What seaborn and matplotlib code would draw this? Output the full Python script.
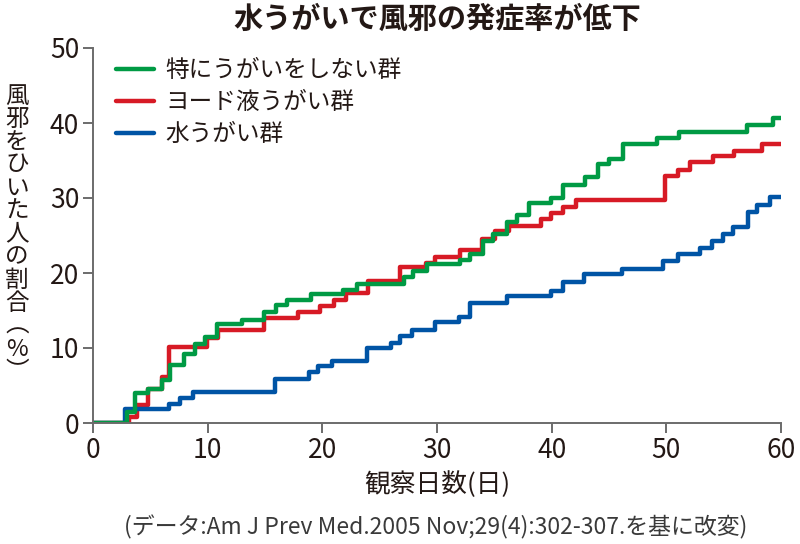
import matplotlib
matplotlib.use("Agg")
import matplotlib.pyplot as plt
import seaborn as sns
import pandas as pd

# ---- data ----
group_labels = ["特にうがいをしない群", "ヨード液うがい群", "水うがい群"]
group_colors = ["#009a44", "#d71a25", "#0054a5"]

days_none = [0, 2.95, 3.7, 4.8, 6.0, 6.7, 7.9, 8.9, 9.8, 10.8, 13.0, 14.9, 16.0, 16.9,
             19.0, 21.8, 23.0, 27.1, 27.9, 29.1, 32.0, 32.9, 34.0, 34.9, 36.1, 37.0,
             38.0, 39.9, 41.0, 42.9, 44.0, 45.0, 46.2, 49.2, 51.1, 57.0, 59.3, 60]
rate_none = [0, 1.5, 3.95, 4.6, 5.7, 7.8, 9.2, 10.5, 11.5, 13.2, 13.8, 14.8, 15.7, 16.4,
             17.2, 17.8, 18.6, 19.5, 20.3, 21.2, 21.7, 22.6, 24.3, 25.2, 26.8, 27.7,
             29.4, 30.0, 31.8, 32.8, 34.6, 35.2, 37.2, 38.0, 38.8, 39.7, 40.7, 40.7]

days_iodine = [0, 3.1, 3.8, 4.8, 6.0, 6.6, 9.9, 10.9, 14.9, 17.9, 19.8, 21.0, 22.1, 24.0,
               26.8, 29.0, 29.8, 32.0, 33.9, 35.1, 36.3, 39.1, 39.9, 41.0, 42.1, 49.9,
               51.0, 52.1, 54.1, 55.9, 58.3, 60]
rate_iodine = [0, 0.75, 2.4, 4.6, 6.2, 10.1, 11.4, 12.4, 14.0, 14.8, 15.6, 16.4, 17.4, 18.9,
               20.8, 21.4, 22.1, 23.1, 24.5, 25.6, 26.3, 27.2, 28.0, 28.8, 29.8, 33.0,
               33.7, 34.8, 35.6, 36.3, 37.2, 37.2]

days_water = [0, 2.8, 6.6, 7.6, 8.75, 15.9, 18.8, 19.6, 20.8, 23.9, 26.0, 26.8, 27.8, 29.8,
              31.9, 32.9, 36.1, 39.9, 41.0, 42.8, 46.1, 49.7, 51.0, 52.9, 54.0, 54.9,
              55.8, 57.1, 57.9, 59.0, 60]
rate_water = [0, 1.9, 2.6, 3.4, 4.2, 5.9, 6.8, 7.6, 8.3, 10.0, 10.7, 11.6, 12.4, 13.5,
              14.2, 16.0, 16.9, 17.6, 18.8, 19.9, 20.6, 21.6, 22.6, 23.3, 24.3, 25.2,
              26.2, 28.2, 29.1, 30.2, 30.2]

x_ticks = [0, 10, 20, 30, 40, 50, 60]
y_ticks = [0, 10, 20, 30, 40, 50]

title = "水うがいで風邪の発症率が低下"
x_label = "観察日数(日)"
y_label = "風邪をひいた人の割合︵%︶"
source = "(データ:Am J Prev Med.2005 Nov;29(4):302-307.を基に改変)"

# ---- style ----
sns.set_style("ticks")
plt.rcParams["font.family"] = ["Noto Sans CJK JP", "DejaVu Sans"]
TXT = "#231815"
AX = "#6b6b6b"

fig = plt.figure(figsize=(8, 5.44), dpi=100)
ax = fig.add_axes([93 / 800, 1 - 423 / 544, (781 - 93) / 800, (423 - 48) / 544])

series = {
    group_labels[0]: (days_none, rate_none),
    group_labels[1]: (days_iodine, rate_iodine),
    group_labels[2]: (days_water, rate_water),
}
colors = dict(zip(group_labels, group_colors))

# draw order: red, blue, green on top
for name in [group_labels[1], group_labels[2], group_labels[0]]:
    d, r = series[name]
    df = pd.DataFrame({"day": d, "rate": r})
    sns.lineplot(data=df, x="day", y="rate", ax=ax, color=colors[name],
                 linewidth=3.2, drawstyle="steps-post", label=name,
                 estimator=None, sort=False)

ax.set_xlim(0, 60)
ax.set_ylim(0, 50)
ax.set_xticks(x_ticks)
ax.set_yticks(y_ticks)
ax.set_xlabel("")
ax.set_ylabel("")
for s in ["top", "right"]:
    ax.spines[s].set_visible(False)
for s in ["left", "bottom"]:
    ax.spines[s].set_color(AX)
    ax.spines[s].set_linewidth(1.4)
ax.tick_params(axis="both", direction="out", length=7, width=1.4, color=AX,
               labelcolor=TXT, labelsize=19, pad=3)

handles, labels = ax.get_legend_handles_labels()
order = [labels.index(g) for g in group_labels]
leg = ax.legend([handles[i] for i in order], [labels[i] for i in order],
                loc="upper left", bbox_to_anchor=(116 / 800, 1 - 59 / 544),
                bbox_transform=fig.transFigure, frameon=False, fontsize=17,
                handlelength=1.6, handletextpad=0.5, labelspacing=0.38,
                borderpad=0, borderaxespad=0)
for t in leg.get_texts():
    t.set_color(TXT)

fig.text(437 / 800, 1 - 19 / 544, title, ha="center", va="center",
         fontsize=21, fontweight="bold", color=TXT)
fig.text(437 / 800, 1 - 485 / 544, x_label, ha="center", va="center",
         fontsize=18.5, color=TXT)
fig.text(17 / 800, 1 - 234 / 544, "\n".join(y_label), ha="center", va="center",
         fontsize=17, color=TXT, linespacing=1.0)
fig.text(436 / 800, 1 - 527 / 544, source, ha="center", va="center",
         fontsize=16.5, color="#3a3a3a")

fig.savefig("out.png", dpi=100)
